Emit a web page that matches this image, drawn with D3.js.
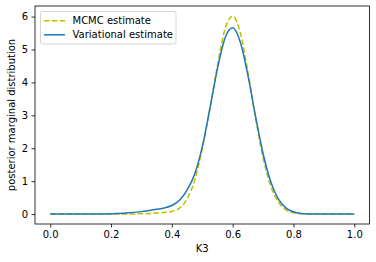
<!DOCTYPE html>
<meta charset="utf-8">
<script src="https://d3js.org/d3.v7.min.js"></script>
<style>
  body { margin: 0; background: #fff; }
  text { font-family: "DejaVu Sans", sans-serif; }
</style>
<body>
<svg id="svg" width="376" height="262"></svg>
<script>
// values
var kValues = [0.0, 0.05, 0.1, 0.15, 0.2, 0.25, 0.3, 0.35, 0.375, 0.4, 0.425, 0.45, 0.475,
               0.5, 0.525, 0.55, 0.575, 0.6, 0.625, 0.65, 0.675, 0.7, 0.725, 0.75, 0.775,
               0.8, 0.825, 0.85, 0.9, 0.95, 1.0];
var mcmcValues = [0, 0, 0, 0, 0, 0.002, 0.01, 0.03, 0.05, 0.08, 0.18, 0.46, 1.03,
                  1.98, 3.19, 4.52, 5.62, 6.01, 5.51, 4.33, 2.93, 1.72, 0.86, 0.37, 0.13,
                  0.04, 0.01, 0.003, 0, 0, 0];
var variationalValues = [0, 0, 0.002, 0.005, 0.012, 0.03, 0.075, 0.145, 0.185, 0.26, 0.42, 0.73, 1.21,
                         2.04, 3.2, 4.42, 5.35, 5.66, 5.23, 4.22, 2.98, 1.84, 0.99, 0.46, 0.19,
                         0.07, 0.02, 0.006, 0.001, 0, 0];
var xTicks = [0.0, 0.2, 0.4, 0.6, 0.8, 1.0];
var yTicks = [0, 1, 2, 3, 4, 5, 6];

var svg = d3.select("svg");
var plotLeft = 35, plotRight = 369.5, plotTop = 6, plotBottom = 224;

var x = d3.scaleLinear().domain([-0.05, 1.05]).range([plotLeft, plotRight]);
var y = d3.scaleLinear().domain([-0.301, 6.321]).range([plotBottom, plotTop]);

var line = d3.line()
    .x(function(d) { return x(d[0]); })
    .y(function(d) { return y(d[1]); })
    .curve(d3.curveMonotoneX);

svg.append("clipPath").attr("id", "clip")
  .append("rect").attr("x", plotLeft).attr("y", plotTop)
  .attr("width", plotRight - plotLeft).attr("height", plotBottom - plotTop);

var plot = svg.append("g").attr("clip-path", "url(#clip)");

plot.append("path")
    .datum(d3.zip(kValues, mcmcValues))
    .attr("d", line)
    .attr("fill", "none")
    .attr("stroke", "#bfbf00")
    .attr("stroke-width", 1.5)
    .attr("stroke-dasharray", "5.55,2.4");

plot.append("path")
    .datum(d3.zip(kValues, variationalValues))
    .attr("d", line)
    .attr("fill", "none")
    .attr("stroke", "#1f77b4")
    .attr("stroke-width", 1.5);

// axes
var xAxis = svg.append("g")
    .attr("transform", "translate(0," + plotBottom + ")")
    .call(d3.axisBottom(x).tickValues(xTicks).tickFormat(d3.format(".1f")).tickSize(3.5).tickPadding(3.5));
var yAxis = svg.append("g")
    .attr("transform", "translate(" + plotLeft + ",0)")
    .call(d3.axisLeft(y).tickValues(yTicks).tickFormat(d3.format("d")).tickSize(3.5).tickPadding(3.5));

[xAxis, yAxis].forEach(function(a) {
  a.select(".domain").remove();
  a.selectAll(".tick line").attr("stroke", "#000").attr("stroke-width", 0.8);
  a.selectAll(".tick text").attr("fill", "#000").style("font-size", "10px")
    .style("font-family", "'DejaVu Sans', sans-serif");
});

// frame
svg.append("rect")
    .attr("x", plotLeft).attr("y", plotTop)
    .attr("width", plotRight - plotLeft).attr("height", plotBottom - plotTop)
    .attr("fill", "none").attr("stroke", "#000").attr("stroke-width", 0.8);

// axis labels
svg.append("text")
    .attr("x", (plotLeft + plotRight) / 2).attr("y", 252)
    .attr("text-anchor", "middle")
    .style("font-size", "10px")
    .text("K3");

svg.append("text")
    .attr("transform", "translate(15," + ((plotTop + plotBottom) / 2) + ") rotate(-90)")
    .attr("text-anchor", "middle")
    .style("font-size", "10px")
    .text("posterior marginal distribution");

// legend
var legend = svg.append("g").attr("transform", "translate(40.5,11.5)");
legend.append("rect")
    .attr("width", 135.5).attr("height", 32.5).attr("rx", 2)
    .attr("fill", "#fff").attr("fill-opacity", 0.8)
    .attr("stroke", "#ccc").attr("stroke-width", 0.8);

var legendItems = [
  { label: "MCMC estimate", color: "#bfbf00", dash: "5.55,2.4" },
  { label: "Variational estimate", color: "#1f77b4", dash: null }
];
legendItems.forEach(function(d, i) {
  var yy = 9.3 + i * 14;
  legend.append("line")
      .attr("x1", 3.5).attr("x2", 24.5).attr("y1", yy).attr("y2", yy)
      .attr("stroke", d.color).attr("stroke-width", 1.5)
      .attr("stroke-dasharray", d.dash);
  legend.append("text")
      .attr("x", 32).attr("y", yy + 3.6)
      .style("font-size", "10px")
      .text(d.label);
});
</script>
</body>
